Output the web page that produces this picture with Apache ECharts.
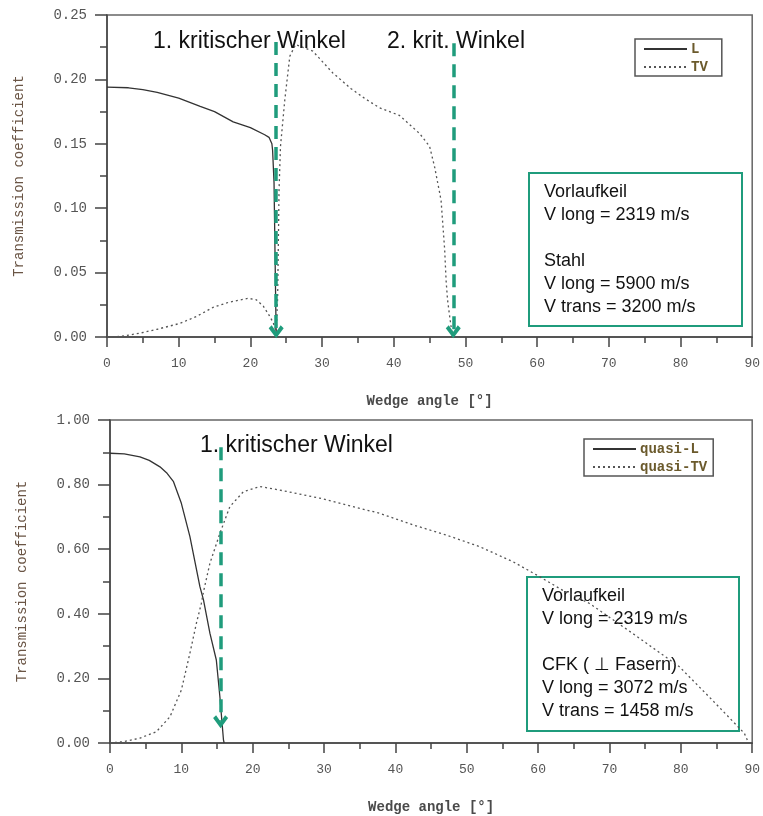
<!DOCTYPE html>
<html>
<head>
<meta charset="utf-8">
<script src="https://cdn.jsdelivr.net/npm/echarts@6/dist/echarts.min.js"></script>
<style>
  html, body { margin: 0; padding: 0; background: #fff; }
  #chart { width: 763px; height: 816px; }
</style>
</head>
<body>
<div id="chart"></div>
<script>
// Stahl: wedge angle [deg] vs transmission coefficient
const steelL = [[0, 0.194], [3, 0.1935], [5, 0.192], [7, 0.190], [10, 0.1855], [13, 0.179], [15, 0.175],
  [17.6, 0.167], [20, 0.1625], [22, 0.157], [22.6, 0.155], [23.0, 0.150], [23.1, 0.145], [23.3, 0.12],
  [23.45, 0.06], [23.6, 0]]
const steelTV = [[0, 0], [2, 0.0005], [4.6, 0.003], [7, 0.006], [10.2, 0.0106], [12.5, 0.016], [14.8, 0.023],
  [17, 0.027], [19.7, 0.030], [20.8, 0.029], [21.8, 0.024], [22.6, 0.017], [23.2, 0.011], [23.6, 0.004],
  [23.8, 0.03], [24.0, 0.114], [24.2, 0.148], [24.8, 0.184], [25.5, 0.218], [26.3, 0.227], [28.7, 0.222],
  [31.5, 0.205], [34, 0.193], [36, 0.185], [38, 0.178], [40.8, 0.172], [43.6, 0.158], [45.0, 0.148],
  [45.7, 0.132], [46.4, 0.112], [46.6, 0.106], [47.1, 0.068], [47.3, 0.044], [47.5, 0.029], [47.8, 0.016],
  [48.0, 0.008], [48.2, 0]]

// CFK (senkrecht zu Fasern)
const cfkL = [[0, 0.897], [2, 0.895], [4.2, 0.886], [5.5, 0.875], [7.0, 0.855], [8.0, 0.835], [8.9, 0.809],
  [10.0, 0.742], [11.2, 0.639], [12.6, 0.484], [13.1, 0.443], [14.0, 0.34], [14.9, 0.257], [15.4, 0.143],
  [15.9, 0.01], [16.0, 0]]
const cfkTV = [[0, 0], [1.8, 0.004], [4.2, 0.015], [6.5, 0.035], [8.4, 0.081], [10.0, 0.164], [11.2, 0.278],
  [12.1, 0.37], [12.8, 0.432], [13.1, 0.468], [14.0, 0.556], [15.4, 0.649], [16.8, 0.732], [18.7, 0.778],
  [21.0, 0.794], [23.8, 0.783], [29.4, 0.758], [33.5, 0.735], [37.8, 0.711], [42.5, 0.675], [47.1, 0.644],
  [51.8, 0.608], [56.5, 0.561], [60.2, 0.515], [63.5, 0.472], [67.2, 0.432], [73.2, 0.34], [79.8, 0.236],
  [84.4, 0.133], [88.9, 0.03], [89.5, 0]]

// critical angle arrows: [angle, from, to]
const steelArrows = [[23.6, 0.229, 0.004], [48.3, 0.228, 0.004]]
const cfkArrows = [[15.5, 0.916, 0.066]]

const steelInfo = ['Vorlaufkeil', 'V long = 2319 m/s', '', 'Stahl', 'V long = 5900 m/s', 'V trans = 3200 m/s']
const cfkInfo = ['Vorlaufkeil', 'V long = 2319 m/s', '', 'CFK ( ⊥ Fasern)', 'V long = 3072 m/s', 'V trans = 1458 m/s']

const teal = '#1f9c7c'
const mono = "'Liberation Mono', 'DejaVu Sans Mono', monospace"
const sans = "'Liberation Sans', Arial, sans-serif"
const chevron = 'path://M5,0 L10,7 L8,9 L5,4.5 L2,9 L0,7 Z'

function arrows(list) {
    return {
        silent: true,
        symbol: ['none', chevron],
        symbolSize: [15, 13],
        label: {show: false},
        lineStyle: {color: teal, width: 3.5, type: [13, 8]},
        itemStyle: {color: teal},
        data: list.map(a => [{coord: [a[0], a[1]]}, {coord: [a[0], a[2]]}])
    }
}

function xAxis(grid) {
    return {
        gridIndex: grid, type: 'value', min: 0, max: 90, interval: 10,
        name: 'Wedge angle [°]', nameLocation: 'middle', nameGap: 57,
        nameTextStyle: {fontFamily: mono, fontSize: 14, fontWeight: 'bold', color: '#4a4a4a'},
        axisLine: {lineStyle: {color: '#444', width: 1.5}},
        axisTick: {length: 10, lineStyle: {color: '#444', width: 1.5}},
        minorTick: {show: true, splitNumber: 2, length: 6, lineStyle: {color: '#444', width: 1.5}},
        axisLabel: {margin: 20, fontFamily: mono, fontSize: 13, color: '#555'},
        splitLine: {show: false}
    }
}

function yAxis(grid, max, interval) {
    return {
        gridIndex: grid, type: 'value', min: 0, max: max, interval: interval,
        name: 'Transmission coefficient', nameLocation: 'middle', nameGap: 81,
        nameTextStyle: {fontFamily: mono, fontSize: 14, color: '#6a5545'},
        axisLine: {show: true, lineStyle: {color: '#444', width: 1.5}},
        axisTick: {show: true, length: 12, lineStyle: {color: '#444', width: 1.5}},
        minorTick: {show: true, splitNumber: 2, length: 7, lineStyle: {color: '#444', width: 1.5}},
        axisLabel: {margin: 20, fontFamily: mono, fontSize: 14, color: '#555',
            formatter: v => v.toFixed(2)},
        splitLine: {show: false}
    }
}

function legend(names, left, top, padRight) {
    return {
        data: names, orient: 'vertical', left: left, top: top,
        itemWidth: 43, itemHeight: 8, itemGap: 4,
        padding: [3, padRight, 2, 8],
        borderColor: '#555', borderWidth: 1.5,
        itemStyle: {opacity: 0},
        textStyle: {fontFamily: mono, fontSize: 14, fontWeight: 'bold', color: '#6b5a2c', padding: [0, 0, 0, -1]}
    }
}

function line(name, data, grid, dotted, marks) {
    return {
        name: name, type: 'line', data: data,
        xAxisIndex: grid, yAxisIndex: grid,
        symbol: 'none', smooth: false,
        lineStyle: {color: dotted ? '#555' : '#333', width: 1.3, type: dotted ? [2, 3] : 'solid'},
        itemStyle: {color: dotted ? '#555' : '#333'},
        markLine: marks
    }
}

function infoBox(lines, x, y, w, h) {
    return {
        type: 'group',
        children: [
            {type: 'rect', shape: {x: x, y: y, width: w, height: h},
                style: {fill: 'none', stroke: teal, lineWidth: 2}},
            {type: 'text', x: x + 15, y: y + 8,
                style: {text: lines.join('\n'), font: '18px ' + sans, fill: '#111', lineHeight: 23}}
        ]
    }
}

function note(text, x, y) {
    return {type: 'text', x: x, y: y, style: {text: text, font: '23px ' + sans, fill: '#111', verticalAlign: 'middle'}}
}

const chart = echarts.init(document.getElementById('chart'))
chart.setOption({
    animation: false,
    backgroundColor: '#fff',
    grid: [
        {left: 107, top: 15, width: 646, height: 322, show: true, borderColor: '#666', borderWidth: 1.5},
        {left: 110, top: 420, width: 643, height: 323, show: true, borderColor: '#666', borderWidth: 1.5}
    ],
    xAxis: [xAxis(0), xAxis(1)],
    yAxis: [yAxis(0, 0.25, 0.05), yAxis(1, 1, 0.2)],
    legend: [legend(['L', 'TV'], 635, 39, 14), legend(['quasi-L', 'quasi-TV'], 584, 439, 6)],
    series: [
        line('L', steelL, 0, false, arrows(steelArrows)),
        line('TV', steelTV, 0, true),
        line('quasi-L', cfkL, 1, false, arrows(cfkArrows)),
        line('quasi-TV', cfkTV, 1, true)
    ],
    graphic: [
        note('1. kritischer Winkel', 153, 42),
        note('2. krit. Winkel', 387, 42),
        note('1. kritischer Winkel', 200, 446),
        infoBox(steelInfo, 529, 173, 213, 153),
        infoBox(cfkInfo, 527, 577, 212, 154)
    ]
})
</script>
</body>
</html>
